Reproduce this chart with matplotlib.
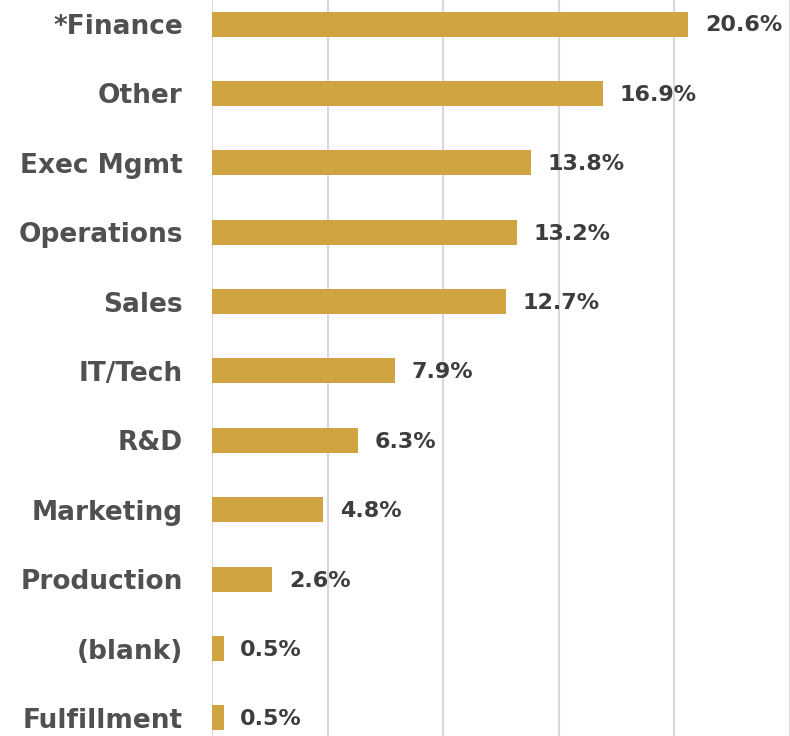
import matplotlib.pyplot as plt

# données
categories = ["*Finance", "Other", "Exec Mgmt", "Operations", "Sales", "IT/Tech",
              "R&D", "Marketing", "Production", "(blank)", "Fulfillment"]
values = [20.6, 16.9, 13.8, 13.2, 12.7, 7.9, 6.3, 4.8, 2.6, 0.5, 0.5]
ticks = [0, 5, 10, 15, 20, 25]

gold = "#CFA441"
grey_txt = "#505050"

fig = plt.figure(figsize=(7.9, 7.36), dpi=100)
ax = fig.add_axes([212 / 790, 0, 578 / 790, 1])

pos = list(range(len(categories)))
ax.barh(pos, values, height=0.36, color=gold, zorder=3)

for y, v in zip(pos, values):
    ax.annotate(f"{v}%", (v, y), xytext=(12, -1), textcoords="offset points",
                va="center", ha="left", fontsize=16, fontweight="bold",
                color="#3d3d3d", family="DejaVu Sans")

ax.set_xlim(0, 25)
ax.set_ylim(10.26, -0.346)
ax.set_xticks(ticks)
ax.xaxis.grid(True, color="#d9d9d9", linewidth=1.5, zorder=0)
ax.tick_params(axis="x", length=0, labelbottom=False)
ax.tick_params(axis="y", length=0, pad=21)
ax.set_yticks(pos)
ax.set_yticklabels(categories, fontsize=19, fontweight="bold", color=grey_txt,
                   family="DejaVu Sans")
for s in ax.spines.values():
    s.set_visible(False)

plt.savefig("out.png", dpi=100)
